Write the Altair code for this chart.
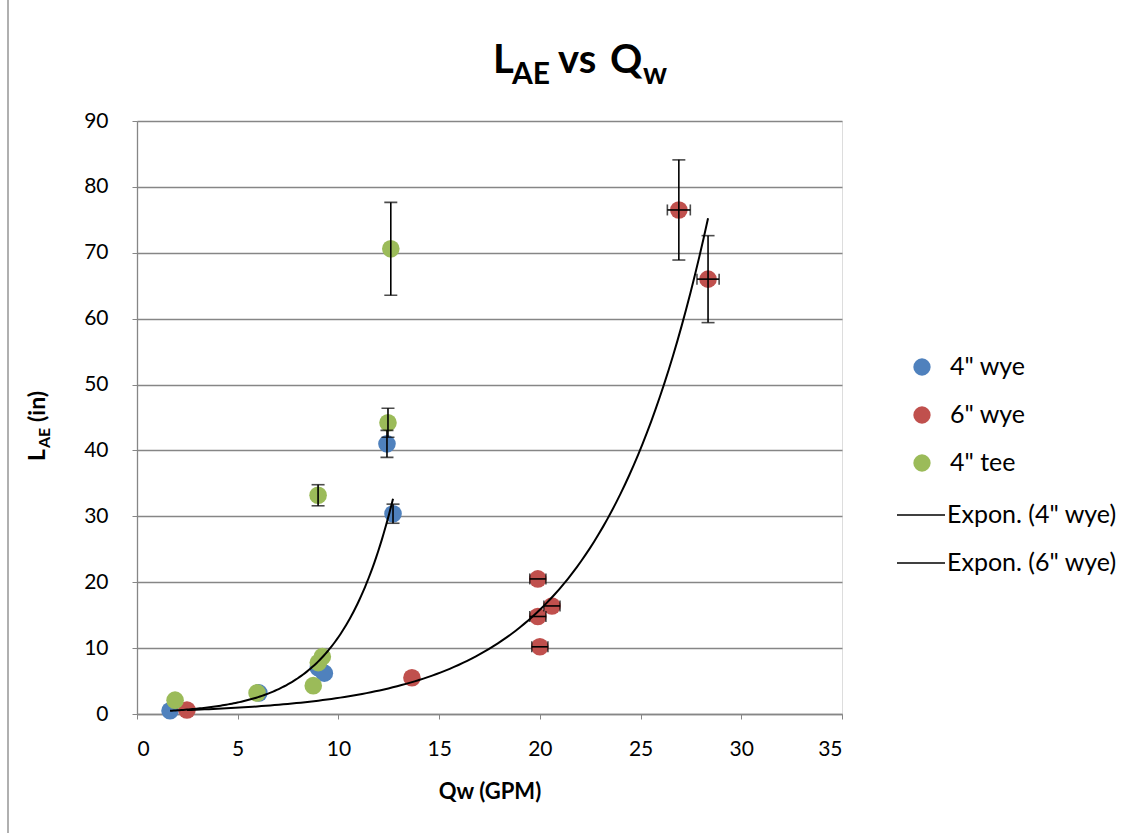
import altair as alt
import numpy as np
import pandas as pd

# ---------------- data ----------------
series_names = ['4" wye', '6" wye', '4" tee']
series_colors = ["#4F81BD", "#C0504D", "#9BBB59"]

wye4_x = [1.64, 6.05, 9.0, 9.3, 12.41, 12.71]
wye4_y = [0.5, 3.2, 7.0, 6.2, 41.0, 30.4]
wye4_xerr = [0, 0, 0, 0, 0, 0]
wye4_yerr = [0, 0, 0, 0, 2.05, 1.45]

wye6_x = [2.48, 13.65, 19.9, 19.9, 20.6, 20.0, 26.9, 28.35]
wye6_y = [0.6, 5.5, 20.5, 14.8, 16.4, 10.2, 76.5, 66.0]
wye6_xerr = [0, 0, 0.4, 0.4, 0.4, 0.4, 0.57, 0.55]
wye6_yerr = [0, 0, 0, 0, 0, 0, 7.6, 6.6]

tee4_x = [1.89, 5.96, 8.75, 9.0, 9.2, 8.99, 12.46, 12.6]
tee4_y = [2.1, 3.2, 4.3, 7.8, 8.7, 33.2, 44.2, 70.6]
tee4_xerr = [0, 0, 0, 0, 0, 0, 0, 0]
tee4_yerr = [0, 0, 0, 0, 0, 1.6, 2.2, 7.05]

x_ticks = [0, 5, 10, 15, 20, 25, 30, 35]
y_ticks = [0, 10, 20, 30, 40, 50, 60, 70, 80, 90]

trend_labels = ['Expon. (4" wye)', 'Expon. (6" wye)']

# ---------------- build tables ----------------
rows = []
for name, xs, ys, xe, ye in [
    (series_names[0], wye4_x, wye4_y, wye4_xerr, wye4_yerr),
    (series_names[1], wye6_x, wye6_y, wye6_xerr, wye6_yerr),
    (series_names[2], tee4_x, tee4_y, tee4_xerr, tee4_yerr),
]:
    for a, b, c, d in zip(xs, ys, xe, ye):
        rows.append(dict(series=name, x=a, y=b, xerr=c, yerr=d))
df = pd.DataFrame(rows)
df["xlo"] = df["x"] - df["xerr"]
df["xhi"] = df["x"] + df["xerr"]
df["ylo"] = df["y"] - df["yerr"]
df["yhi"] = df["y"] + df["yerr"]
dfy = df[df["yerr"] > 0]
dfx = df[df["xerr"] > 0]

# exponential trendlines (Excel style: least squares on ln y)
trend_rows = []
for name, xs, ys in [(trend_labels[0], wye4_x, wye4_y), (trend_labels[1], wye6_x, wye6_y)]:
    b, lna = np.polyfit(np.array(xs), np.log(np.array(ys)), 1)
    grid = np.linspace(min(xs), max(xs), 120)
    for g in grid:
        trend_rows.append(dict(trend=name, x=g, y=float(np.exp(lna + b * g))))
trend_df = pd.DataFrame(trend_rows)

# ---------------- chart ----------------
W, H = 705, 593
FONT = "Lato"
GRAY = "#868686"

xscale = alt.Scale(domain=[0, 35], nice=False)
yscale = alt.Scale(domain=[0, 90], nice=False)

xaxis = alt.Axis(values=x_ticks, title="Qw (GPM)", grid=False, domainColor=GRAY,
                 domainWidth=1.3, tickColor=GRAY, tickSize=5, labelFontSize=21,
                 labelPadding=19, labelColor="black", titleFontSize=22,
                 titleFontWeight="bold", titlePadding=22, titleColor="black",
                 labelFont=FONT, titleFont=FONT)
yaxis = alt.Axis(values=y_ticks, title=None, grid=True, gridColor=GRAY, gridWidth=1.3,
                 domainColor=GRAY, domainWidth=1.3, tickColor=GRAY, tickSize=5,
                 labelFontSize=21, labelPadding=24, labelColor="black", labelFont=FONT)

base = alt.Chart(df)
X = alt.X("x:Q", scale=xscale, axis=xaxis)
Y = alt.Y("y:Q", scale=yscale, axis=yaxis)

ebar_y = alt.Chart(dfy).mark_rule(color="black", strokeWidth=1.6).encode(
    x=alt.X("x:Q", scale=xscale), y=alt.Y("ylo:Q", scale=yscale), y2="yhi:Q")
cap_lo = alt.Chart(dfy).mark_tick(orient="horizontal", color="black", thickness=1.6, size=13).encode(
    x=alt.X("x:Q", scale=xscale), y=alt.Y("ylo:Q", scale=yscale))
cap_hi = alt.Chart(dfy).mark_tick(orient="horizontal", color="black", thickness=1.6, size=13).encode(
    x=alt.X("x:Q", scale=xscale), y=alt.Y("yhi:Q", scale=yscale))

ebar_x = alt.Chart(dfx).mark_rule(color="black", strokeWidth=1.6).encode(
    x=alt.X("xlo:Q", scale=xscale), x2="xhi:Q", y=alt.Y("y:Q", scale=yscale))
capx_lo = alt.Chart(dfx).mark_tick(orient="vertical", color="black", thickness=1.6, size=11).encode(
    x=alt.X("xlo:Q", scale=xscale), y=alt.Y("y:Q", scale=yscale))
capx_hi = alt.Chart(dfx).mark_tick(orient="vertical", color="black", thickness=1.6, size=11).encode(
    x=alt.X("xhi:Q", scale=xscale), y=alt.Y("y:Q", scale=yscale))

points = base.mark_circle(size=310, opacity=1).encode(
    x=X, y=Y,
    color=alt.Color("series:N", scale=alt.Scale(domain=series_names, range=series_colors), legend=None),
)

trend = alt.Chart(trend_df).mark_line(color="black", strokeWidth=2).encode(
    x=alt.X("x:Q", scale=xscale), y=alt.Y("y:Q", scale=yscale), detail="trend:N")

one = pd.DataFrame({"k": [0]})


def txt(text, x, y, size, weight="normal", angle=0, align="left", baseline="alphabetic"):
    return alt.Chart(one).mark_text(text=text, fontSize=size, fontWeight=weight, font=FONT,
                                    angle=angle, align=align, baseline=baseline,
                                    color="black").encode(x=alt.value(x), y=alt.value(y))


# title  L_AE vs Q_w
title_layers = [
    txt("L", 356, -48, 40, "bold"),
    txt("AE", 375, -37, 30, "bold"),
    txt("vs", 421, -48, 40, "bold"),
    txt("Q", 473, -48, 40, "bold"),
    txt("w", 506, -37, 30, "bold"),
]

# y axis title  L_AE (in)
ytitle_layers = [
    txt("L", -92, 340, 23, "bold", angle=270),
    txt("AE", -87, 327, 16, "bold", angle=270),
    txt("(in)", -92, 301, 23, "bold", angle=270),
]

# legend
legend_layers = []
leg_y = [246, 294, 342, 394, 442]
for i, (lab, col) in enumerate(zip(series_names, series_colors)):
    legend_layers.append(alt.Chart(one).mark_circle(size=300, opacity=1, color=col).encode(
        x=alt.value(785), y=alt.value(leg_y[i])))
    legend_layers.append(txt(lab, 813, leg_y[i], 25, baseline="middle"))
for j, lab in enumerate(trend_labels):
    yy = leg_y[3 + j]
    legend_layers.append(alt.Chart(one).mark_rule(color="black", strokeWidth=1.5).encode(
        x=alt.value(760), x2=alt.value(808), y=alt.value(yy)))
    legend_layers.append(txt(lab, 810, yy, 25, baseline="middle"))

border = alt.Chart(one).mark_rule(color=GRAY, strokeWidth=1.3).encode(
    x=alt.value(-129), y=alt.value(-121), y2=alt.value(712))

chart = alt.layer(
    points, ebar_y, cap_lo, cap_hi, ebar_x, capx_lo, capx_hi, trend,
    *title_layers, *ytitle_layers, *legend_layers, border,
).properties(
    width=W, height=H, autosize="none",
    padding={"left": 137, "top": 121, "right": 300, "bottom": 119},
    background="white",
).configure_view(stroke=None).configure(font=FONT)

chart.save("out.html", embed_options={"renderer": "svg", "actions": False})
